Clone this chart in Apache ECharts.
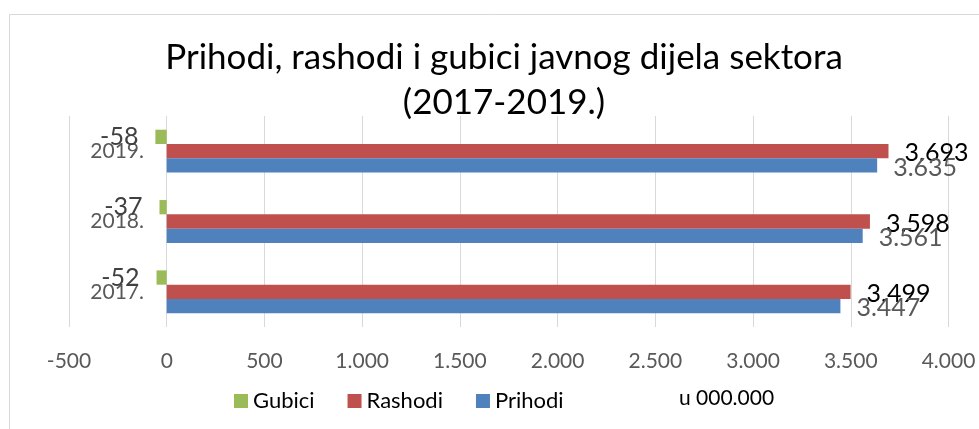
<!DOCTYPE html>
<html>
<head>
<meta charset="utf-8">
<script src="https://cdn.jsdelivr.net/npm/echarts@6/dist/echarts.min.js"></script>
<style>
html,body{margin:0;padding:0;background:#fff;}
#chart{width:979px;height:429px;}
</style>
</head>
<body>
<div id="chart"></div>
<script>
const years = ['2017.', '2018.', '2019.'];
const gubici = [-52, -37, -58];
const rashodi = [3499, 3598, 3693];
const prihodi = [3447, 3561, 3635];
const xTicks = [-500, 0, 500, 1000, 1500, 2000, 2500, 3000, 3500, 4000];
const titleText = 'Prihodi, rashodi i gubici javnog dijela sektora\n(2017-2019.)';
const unitText = 'u 000.000';

function fmt(v) {
  const s = String(Math.abs(v)).replace(/\B(?=(\d{3})+(?!\d))/g, '.');
  return (v < 0 ? '-' : '') + s;
}

const FONT = 'Lato';
const chart = echarts.init(document.getElementById('chart'));
chart.setOption({
  animation: false,
  backgroundColor: '#ffffff',
  title: {
    text: titleText,
    left: 499,
    textAlign: 'center',
    top: 30,
    textStyle: { fontFamily: FONT, fontSize: 35, fontWeight: 'normal', color: '#000', lineHeight: 45 }
  },
  graphic: [
    { type: 'rect', shape: { x: 9.5, y: 14.5, width: 1000, height: 500 }, style: { fill: 'none', stroke: '#d9d9d9', lineWidth: 1 }, silent: true },
    { type: 'text', left: 679, top: 388, style: { text: unitText, fontFamily: FONT, fontSize: 21, fill: '#000' } }
  ],
  legend: {
    data: ['Gubici', 'Rashodi', 'Prihodi'],
    left: 229,
    top: 385,
    itemWidth: 14,
    itemHeight: 14,
    itemGap: 33,
    icon: 'rect',
    textStyle: { fontFamily: FONT, fontSize: 22, color: '#000' }
  },
  grid: { left: 69, right: 30.5, top: 116, height: 211, containLabel: false, outerBoundsMode: 'none' },
  xAxis: {
    type: 'value',
    min: xTicks[0],
    max: xTicks[xTicks.length - 1],
    interval: 500,
    axisLine: { show: false },
    axisTick: { show: false },
    splitLine: { show: true, lineStyle: { color: '#d9d9d9', width: 1 } },
    axisLabel: { fontFamily: FONT, fontSize: 21, color: '#595959', margin: 24, formatter: fmt }
  },
  yAxis: {
    type: 'category',
    data: years,
    axisLine: { show: false, onZero: false },
    axisTick: { show: false },
    axisLabel: { fontFamily: FONT, fontSize: 21, color: '#595959', margin: -75 }
  },
  series: [
    {
      name: 'Gubici', type: 'bar', data: gubici, barWidth: 14.3, barGap: '0%',
      itemStyle: { color: '#9bbb59' },
      label: { show: true, position: 'left', distance: 17, fontFamily: FONT, fontSize: 25, color: '#404040', formatter: p => fmt(p.value) }
    },
    {
      name: 'Rashodi', type: 'bar', data: rashodi, barWidth: 14.3, barGap: '0%',
      itemStyle: { color: '#c0504d' },
      label: { show: true, position: 'right', distance: 16, offset: [0, 2], fontFamily: FONT, fontSize: 25, color: '#000', formatter: p => fmt(p.value) }
    },
    {
      name: 'Prihodi', type: 'bar', data: prihodi, barWidth: 14.3, barGap: '0%',
      itemStyle: { color: '#4f81bd' },
      label: { show: true, position: 'right', distance: 16, offset: [0, 2], fontFamily: FONT, fontSize: 25, color: '#595959', formatter: p => fmt(p.value) }
    }
  ]
});
</script>
</body>
</html>
